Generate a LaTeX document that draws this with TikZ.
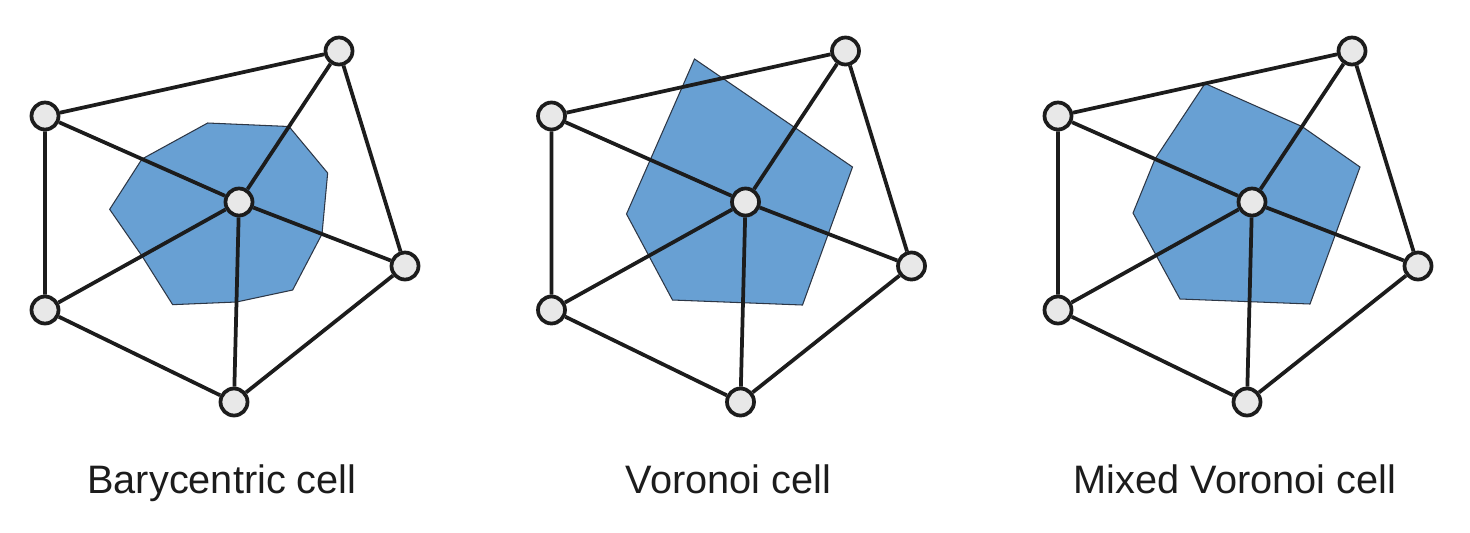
\documentclass[tikz,border=0pt]{standalone}
\usepackage{fontspec}
\setmainfont{Liberation Sans}
\usepackage{tikz}
\usetikzlibrary{calc,backgrounds}
\definecolor{cellblue}{RGB}{104,160,211}
\definecolor{vertgrey}{RGB}{232,232,232}
\definecolor{inkgrey}{RGB}{28,28,28}
\definecolor{cellline}{RGB}{45,55,70}
\tikzset{
  vert/.style={circle,draw=inkgrey,fill=vertgrey,line width=0.075cm,minimum size=0.54cm,inner sep=0pt},
  edge/.style={draw=inkgrey,line width=0.075cm,line join=round},
  cell/.style={fill=cellblue,draw=cellline,line width=0.6pt},
  caption/.style={anchor=base,text=inkgrey,font=\fontsize{22.6}{27}\selectfont}
}
% one triangle fan: #1 = name prefix, #2 = x of the centre vertex
\newcommand{\meshpanel}[2]{%
  \begin{scope}[shift={(#2,202)}]
    \node[vert] (#1c)  at (0,0) {};
    \node[vert] (#1tr) at (100,-151) {};
    \node[vert] (#1lt) at (-194,-86) {};
    \node[vert] (#1r)  at (166,64) {};
    \node[vert] (#1lb) at (-194,108) {};
    \node[vert] (#1b)  at (-5,200) {};
    \draw[edge] (#1c) -- (#1tr) (#1c) -- (#1lt) (#1c) -- (#1r) (#1c) -- (#1lb) (#1c) -- (#1b);
    \draw[edge] (#1tr) -- (#1lt) -- (#1lb) -- (#1b) -- (#1r) -- (#1tr);
  \end{scope}}
\newcommand{\panelcaption}[3]{\node[caption] (#1) at (#2-17,493) {#3};}

\begin{document}
\begin{tikzpicture}[x=0.02cm,y=-0.02cm]
  \useasboundingbox (0,0) rectangle (1470,532);
  \meshpanel{b}{239}
  \meshpanel{v}{745.5}
  \meshpanel{m}{1252}
  \begin{scope}[on background layer]
    % barycentric cell: centroids and edge midpoints
    \filldraw[cell] (barycentric cs:bc=1,btr=1,blt=1) -- ($(bc)!0.5!(blt)$)
      -- (barycentric cs:bc=1,blt=1,blb=1) -- ($(bc)!0.5!(blb)$)
      -- (barycentric cs:bc=1,blb=1,bb=1) -- ($(bc)!0.5!(bb)$)
      -- (barycentric cs:bc=1,bb=1,br=1) -- ($(bc)!0.5!(br)$)
      -- (barycentric cs:bc=1,br=1,btr=1) -- ($(bc)!0.5!(btr)$) -- cycle;
    % voronoi cell: circumcentres
    \filldraw[cell] ($(vc)+(-51,-143)$) -- ($(vc)+(107,-35)$) -- ($(vc)+(57,103)$)
      -- ($(vc)+(-73,98)$) -- ($(vc)+(-119,12)$) -- cycle;
    % mixed cell: obtuse top triangle uses the midpoint of its long side
    \filldraw[cell] ($(mtr)!0.5!(mlt)$) -- ($(mc)!0.5!(mtr)$) -- ($(mc)+(108,-35)$)
      -- ($(mc)+(58,102)$) -- ($(mc)+(-72,97)$) -- ($(mc)+(-119,11)$)
      -- ($(mc)!0.5!(mlt)$) -- cycle;
  \end{scope}
  \panelcaption{bcap}{239}{Barycentric cell}
  \panelcaption{vcap}{745.5}{Voronoi cell}
  \panelcaption{mcap}{1252}{Mixed Voronoi cell}
\end{tikzpicture}
\end{document}
